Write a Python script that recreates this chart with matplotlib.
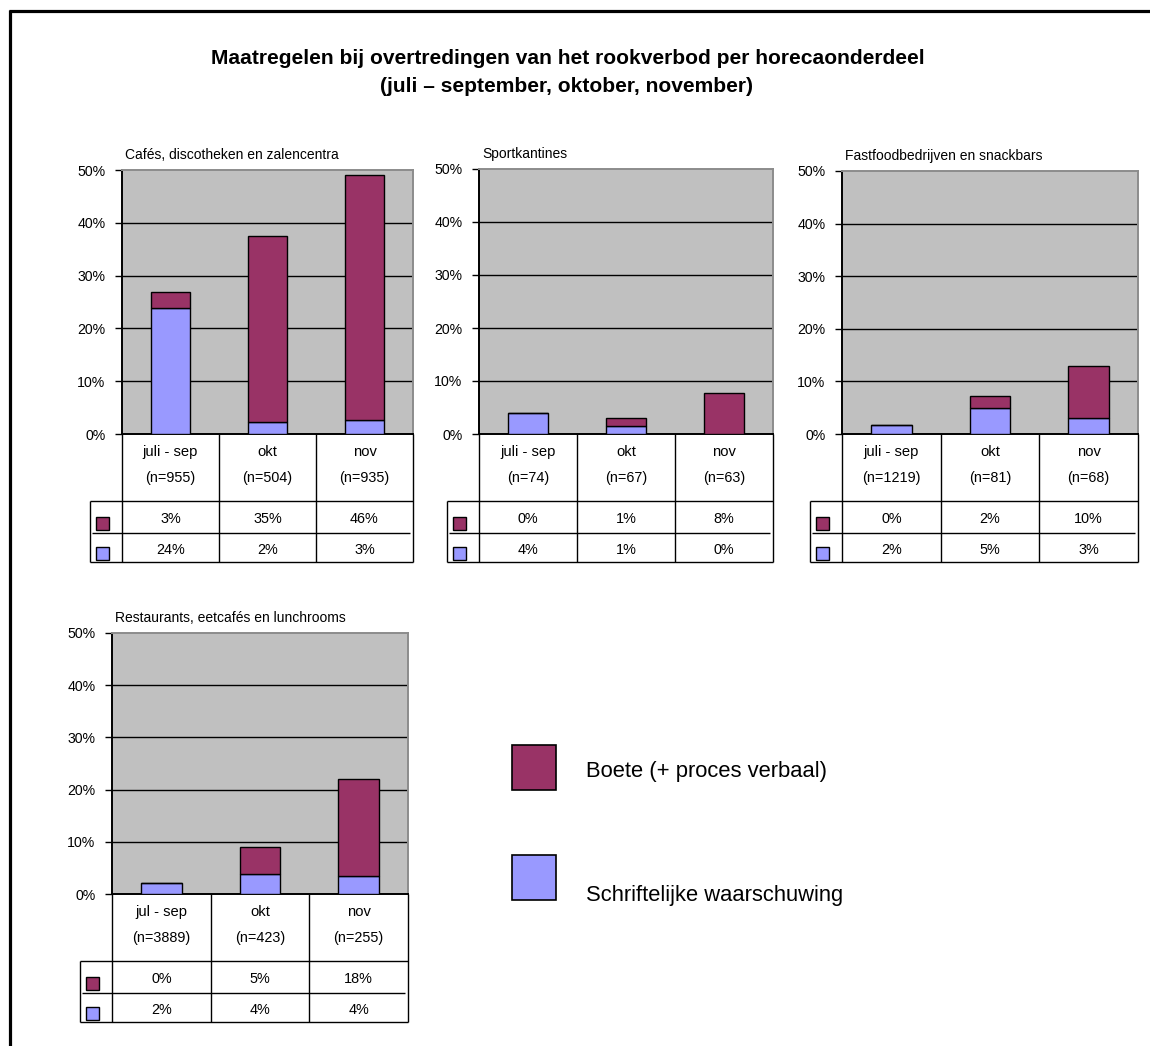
import matplotlib
matplotlib.use("Agg")
import matplotlib.pyplot as plt
from matplotlib import font_manager as fm
from matplotlib.patches import Rectangle
from matplotlib.lines import Line2D

# ---------------- data ----------------
main_title_1 = "Maatregelen bij overtredingen van het rookverbod per horecaonderdeel"
main_title_2 = "(juli \u2013 september, oktober, november)"
legend_labels = ["Boete (+ proces verbaal)", "Schriftelijke waarschuwing"]

title_cafes = "Cafés, discotheken en zalencentra"
cats_cafes = ["juli - sep", "okt", "nov"]
n_cafes = ["(n=955)", "(n=504)", "(n=935)"]
boete_cafes = [3.0, 35.2, 46.5]
warn_cafes = [23.9, 2.3, 2.6]
boete_lbl_cafes = ["3%", "35%", "46%"]
warn_lbl_cafes = ["24%", "2%", "3%"]

title_sport = "Sportkantines"
cats_sport = ["juli - sep", "okt", "nov"]
n_sport = ["(n=74)", "(n=67)", "(n=63)"]
boete_sport = [0.0, 1.55, 7.8]
warn_sport = [3.9, 1.5, 0.0]
boete_lbl_sport = ["0%", "1%", "8%"]
warn_lbl_sport = ["4%", "1%", "0%"]

title_fast = "Fastfoodbedrijven en snackbars"
cats_fast = ["juli - sep", "okt", "nov"]
n_fast = ["(n=1219)", "(n=81)", "(n=68)"]
boete_fast = [0.0, 2.4, 10.0]
warn_fast = [1.7, 4.9, 3.0]
boete_lbl_fast = ["0%", "2%", "10%"]
warn_lbl_fast = ["2%", "5%", "3%"]

title_rest = "Restaurants, eetcafés en lunchrooms"
cats_rest = ["jul - sep", "okt", "nov"]
n_rest = ["(n=3889)", "(n=423)", "(n=255)"]
boete_rest = [0.0, 5.2, 18.5]
warn_rest = [2.05, 3.8, 3.5]
boete_lbl_rest = ["0%", "5%", "18%"]
warn_lbl_rest = ["2%", "4%", "4%"]

yticks = [0, 10, 20, 30, 40, 50]

# ---------------- style ----------------
RED = "#993366"
BLUE = "#9999FF"
PLOT_BG = "#C0C0C0"

def has_font(name):
    try:
        fm.findfont(fm.FontProperties(family=name), fallback_to_default=False)
        return True
    except Exception:
        return False

plt.rcParams["font.family"] = ["Liberation Sans", "DejaVu Sans"]
if has_font("Liberation Sans Narrow"):
    title_family = ["Liberation Sans Narrow", "Liberation Sans", "DejaVu Sans"]
    title_size = 17
else:
    title_family = ["Liberation Sans", "DejaVu Sans"]
    title_size = 15.1

W, H = 1150, 1046
fig = plt.figure(figsize=(W / 100, H / 100), dpi=100)
fig.patch.set_facecolor("white")

panels = [
    (title_cafes, cats_cafes, n_cafes, boete_cafes, warn_cafes, boete_lbl_cafes, warn_lbl_cafes, (122, 170, 413, 434)),
    (title_sport, cats_sport, n_sport, boete_sport, warn_sport, boete_lbl_sport, warn_lbl_sport, (479, 169, 773, 434)),
    (title_fast, cats_fast, n_fast, boete_fast, warn_fast, boete_lbl_fast, warn_lbl_fast, (842, 171, 1138, 434)),
    (title_rest, cats_rest, n_rest, boete_rest, warn_rest, boete_lbl_rest, warn_lbl_rest, (112, 633, 408, 894)),
]

ov = fig.add_axes([0, 0, 1, 1], zorder=10)
ov.set_xlim(0, W)
ov.set_ylim(H, 0)
ov.axis("off")
ov.patch.set_alpha(0)

def hline(y, xa, xb, lw=1.0, color="black"):
    ov.add_line(Line2D([xa, xb], [y, y], color=color, lw=lw, solid_capstyle="butt"))

def vline(x, ya, yb, lw=1.0, color="black"):
    ov.add_line(Line2D([x, x], [ya, yb], color=color, lw=lw, solid_capstyle="butt"))

for (ttl, cats, ns, boete, warn, blbl, wlbl, box) in panels:
    x0, y0, x1, y1 = box
    ax = fig.add_axes([x0 / W, 1 - y1 / H, (x1 - x0) / W, (y1 - y0) / H])
    ax.set_facecolor(PLOT_BG)
    idx = list(range(len(cats)))
    for yv in yticks[1:-1]:
        ax.axhline(yv, color="black", lw=1.0, zorder=1)
    ax.bar(idx, warn, width=0.41, color=BLUE, edgecolor="black", linewidth=1.0, zorder=3)
    ax.bar(idx, boete, bottom=warn, width=0.41, color=RED, edgecolor="black", linewidth=1.0, zorder=3)
    ax.set_xlim(-0.5, len(cats) - 0.5)
    ax.set_ylim(0, 50)
    ax.set_yticks(yticks)
    ax.set_yticklabels([f"{v}%" for v in yticks], fontsize=10.2)
    ax.set_xticks([])
    ax.tick_params(axis="y", length=5, width=1, pad=7, direction="out", colors="black")
    ax.spines["left"].set_color("black")
    ax.spines["left"].set_linewidth(1.4)
    ax.spines["bottom"].set_color("black")
    ax.spines["bottom"].set_linewidth(1.4)
    ax.spines["top"].set_color("#8c8c8c")
    ax.spines["top"].set_linewidth(1.4)
    ax.spines["right"].set_color("#8c8c8c")
    ax.spines["right"].set_linewidth(1.4)

    # subtitle
    ov.text(x0 + 3, y0 - 11, ttl, fontsize=10, ha="left", va="baseline")

    # data table below
    cw = (x1 - x0) / len(cats)
    lx = x0 - 32
    for k in range(len(cats) + 1):
        vline(x0 + k * cw, y1, y1 + 128)
    vline(lx, y1 + 67, y1 + 128)
    hline(y1 + 67, lx, x1)
    hline(y1 + 99, lx + 2, x1 - 3)
    hline(y1 + 128, lx, x1)
    for k, (c, n, b, w) in enumerate(zip(cats, ns, blbl, wlbl)):
        cx = x0 + (k + 0.5) * cw
        ov.text(cx, y1 + 18, c, fontsize=10.6, ha="center", va="center")
        ov.text(cx, y1 + 44, n, fontsize=10.4, ha="center", va="center")
        ov.text(cx, y1 + 85, b, fontsize=10.4, ha="center", va="center")
        ov.text(cx, y1 + 116, w, fontsize=10.4, ha="center", va="center")
    ov.add_patch(Rectangle((lx + 6, y1 + 83), 13, 13, facecolor=RED, edgecolor="black", lw=1.0))
    ov.add_patch(Rectangle((lx + 6, y1 + 113), 13, 13, facecolor=BLUE, edgecolor="black", lw=1.0))

# main title
ov.text(568, 64, main_title_1, fontsize=title_size, fontweight="bold", family=title_family, ha="center", va="baseline")
ov.text(567, 92, main_title_2, fontsize=title_size, fontweight="bold", family=title_family, ha="center", va="baseline")

# legend
ov.add_patch(Rectangle((512, 745), 44, 45, facecolor=RED, edgecolor="black", lw=1.2))
ov.add_patch(Rectangle((512, 855), 44, 45, facecolor=BLUE, edgecolor="black", lw=1.2))
ov.text(586, 772, legend_labels[0], fontsize=15.8, ha="left", va="center")
ov.text(586, 895, legend_labels[1], fontsize=15.8, ha="left", va="center")

# outer frame (top and left visible)
hline(11, 9, W + 5, lw=2.3)
vline(10, 10, H + 5, lw=2.3)

fig.savefig("out.png", dpi=100, facecolor="white")
